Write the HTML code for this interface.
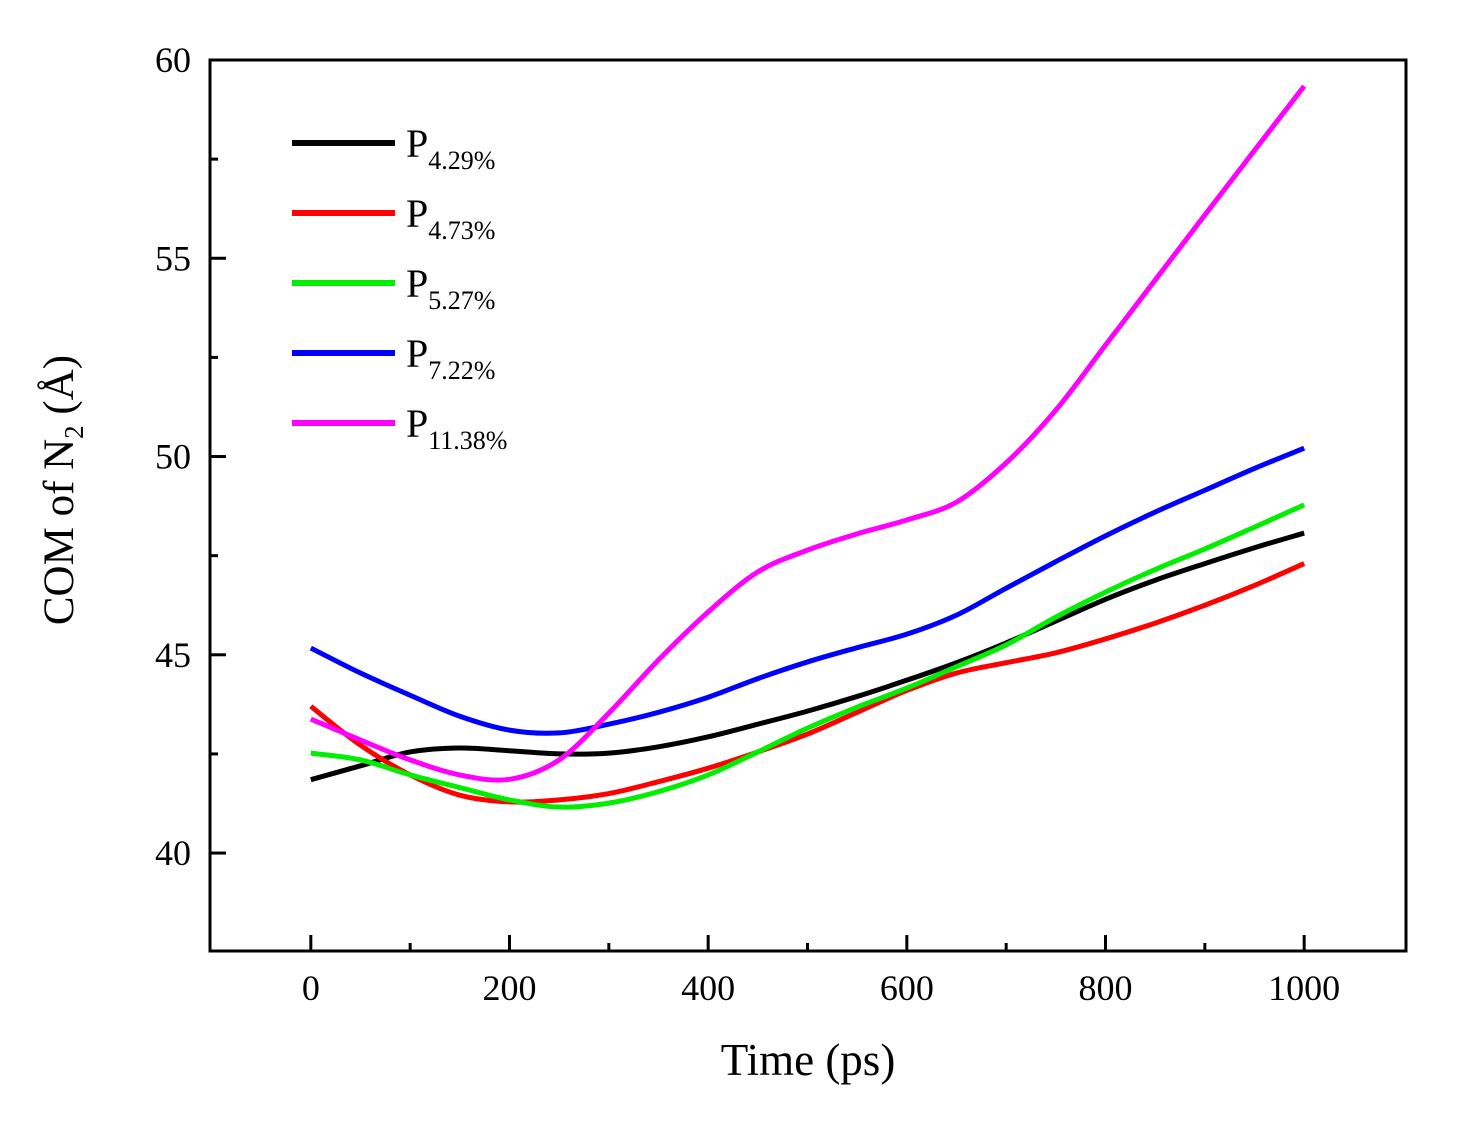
<!DOCTYPE html>
<html><head><meta charset="utf-8"><style>
html,body{margin:0;padding:0;background:#fff;}
svg{display:block;font-family:"Liberation Serif",serif;}
</style></head><body>
<svg id="chart" width="1468" height="1133" viewBox="0 0 1468 1133">
<g id="marks"></g>
</svg>
<script>
const xs = [0,50,100,150,200,250,300,350,400,450,500,550,600,650,700,750,800,850,900,950,1000];
const subLabels = ["4.29%","4.73%","5.27%","7.22%","11.38%"];
const colors = ["#000000","#ff0000","#00ee00","#0000ff","#ff00ff"];
const black = [41.85,42.2,42.55,42.65,42.58,42.5,42.52,42.68,42.93,43.25,43.58,43.95,44.36,44.8,45.3,45.85,46.4,46.88,47.3,47.7,48.07];
const red = [43.7,42.72,41.97,41.46,41.29,41.34,41.5,41.8,42.14,42.55,43.0,43.55,44.1,44.54,44.8,45.05,45.4,45.8,46.25,46.75,47.3];
const green = [42.52,42.35,41.97,41.65,41.34,41.16,41.26,41.55,41.97,42.55,43.15,43.68,44.16,44.7,45.25,45.95,46.58,47.15,47.67,48.22,48.78];
const blue = [45.17,44.54,43.98,43.45,43.1,43.03,43.25,43.55,43.93,44.4,44.82,45.18,45.52,46.0,46.68,47.35,48.0,48.6,49.15,49.7,50.21];
const magenta = [43.38,42.85,42.35,41.97,41.86,42.35,43.53,44.87,46.08,47.09,47.64,48.05,48.4,48.85,49.84,51.17,52.81,54.45,56.09,57.72,59.34];
const series = [black,red,green,blue,magenta];
const xTicks = [0,200,400,600,800,1000];
const yTicks = [40,45,50,55,60];

const L=210,R=1406,T=60,B=951, XMIN=-101.5,XMAX=1102.5,YMIN=37.53,YMAX=60;
const sx=v=>L+(v-XMIN)/(XMAX-XMIN)*(R-L);
const sy=v=>T+(YMAX-v)/(YMAX-YMIN)*(B-T);
const NS="http://www.w3.org/2000/svg";
const svg=document.getElementById('marks');
function mk(tag,attrs,parent){const e=document.createElementNS(NS,tag);for(const k in attrs)e.setAttribute(k,attrs[k]);(parent||svg).appendChild(e);return e;}

const frame=mk('rect',{x:L,y:T,width:R-L,height:B-T,fill:'none',stroke:'#000','stroke-width':3});



for(let v=0;v<=1000;v+=100){
  const major=v%200===0;const len=major?16:8;
  const t=mk('line',{x1:sx(v),x2:sx(v),y1:B,y2:B-len,stroke:'#000','stroke-width':3});
  
  
}
xTicks.forEach(v=>{
  const t=mk('text',{x:sx(v),y:1000,'font-size':36,'text-anchor':'middle'});t.textContent=v;
  
  
});
for(let v=40;v<=60.01;v+=2.5){
  const major=Math.abs(v%5)<0.01;const len=major?16:8;
  const t=mk('line',{x1:L,x2:L+len,y1:sy(v),y2:sy(v),stroke:'#000','stroke-width':3});
  
  
}
yTicks.forEach(v=>{
  const t=mk('text',{x:191,y:sy(v)+12,'font-size':36,'text-anchor':'end'});t.textContent=v;
  
  
});

function pathD(arr){
  const p=arr.map((v,i)=>[sx(xs[i]),sy(v)]);
  let d=`M${p[0][0]},${p[0][1]}`;
  for(let i=0;i<p.length-1;i++){
    const p0=p[i-1]||p[i],p1=p[i],p2=p[i+1],p3=p[i+2]||p2;
    const c1=[p1[0]+(p2[0]-p0[0])/6,p1[1]+(p2[1]-p0[1])/6];
    const c2=[p2[0]-(p3[0]-p1[0])/6,p2[1]-(p3[1]-p1[1])/6];
    d+=` C${c1[0]},${c1[1]} ${c2[0]},${c2[1]} ${p2[0]},${p2[1]}`;
  }
  return d;
}
series.forEach((arr,i)=>{
  const p=mk('path',{d:pathD(arr),fill:'none',stroke:colors[i],'stroke-width':5,'stroke-linejoin':'round'});
  
  
});

subLabels.forEach((s,i)=>{
  const y=143+i*70;
  const g=mk('g',{});
  
  
  mk('line',{x1:292,x2:395,y1:y,y2:y,stroke:colors[i],'stroke-width':6},g);
  const t=mk('text',{x:406,y:y+14,'font-size':40},g);
  t.textContent='P';
  const sub=mk('tspan',{dy:12,'font-size':26},t);sub.textContent=s;
});

const xt=mk('text',{x:808,y:1075,'font-size':45,'text-anchor':'middle'});
xt.textContent='Time (ps)';


const yt=mk('text',{x:0,y:0,'font-size':43,'text-anchor':'middle',transform:'translate(73,490) rotate(-90)'});
yt.innerHTML='COM of N<tspan dy="10" font-size="27">2</tspan><tspan dy="-10"> (Å)</tspan>';


</script>
</body></html>
